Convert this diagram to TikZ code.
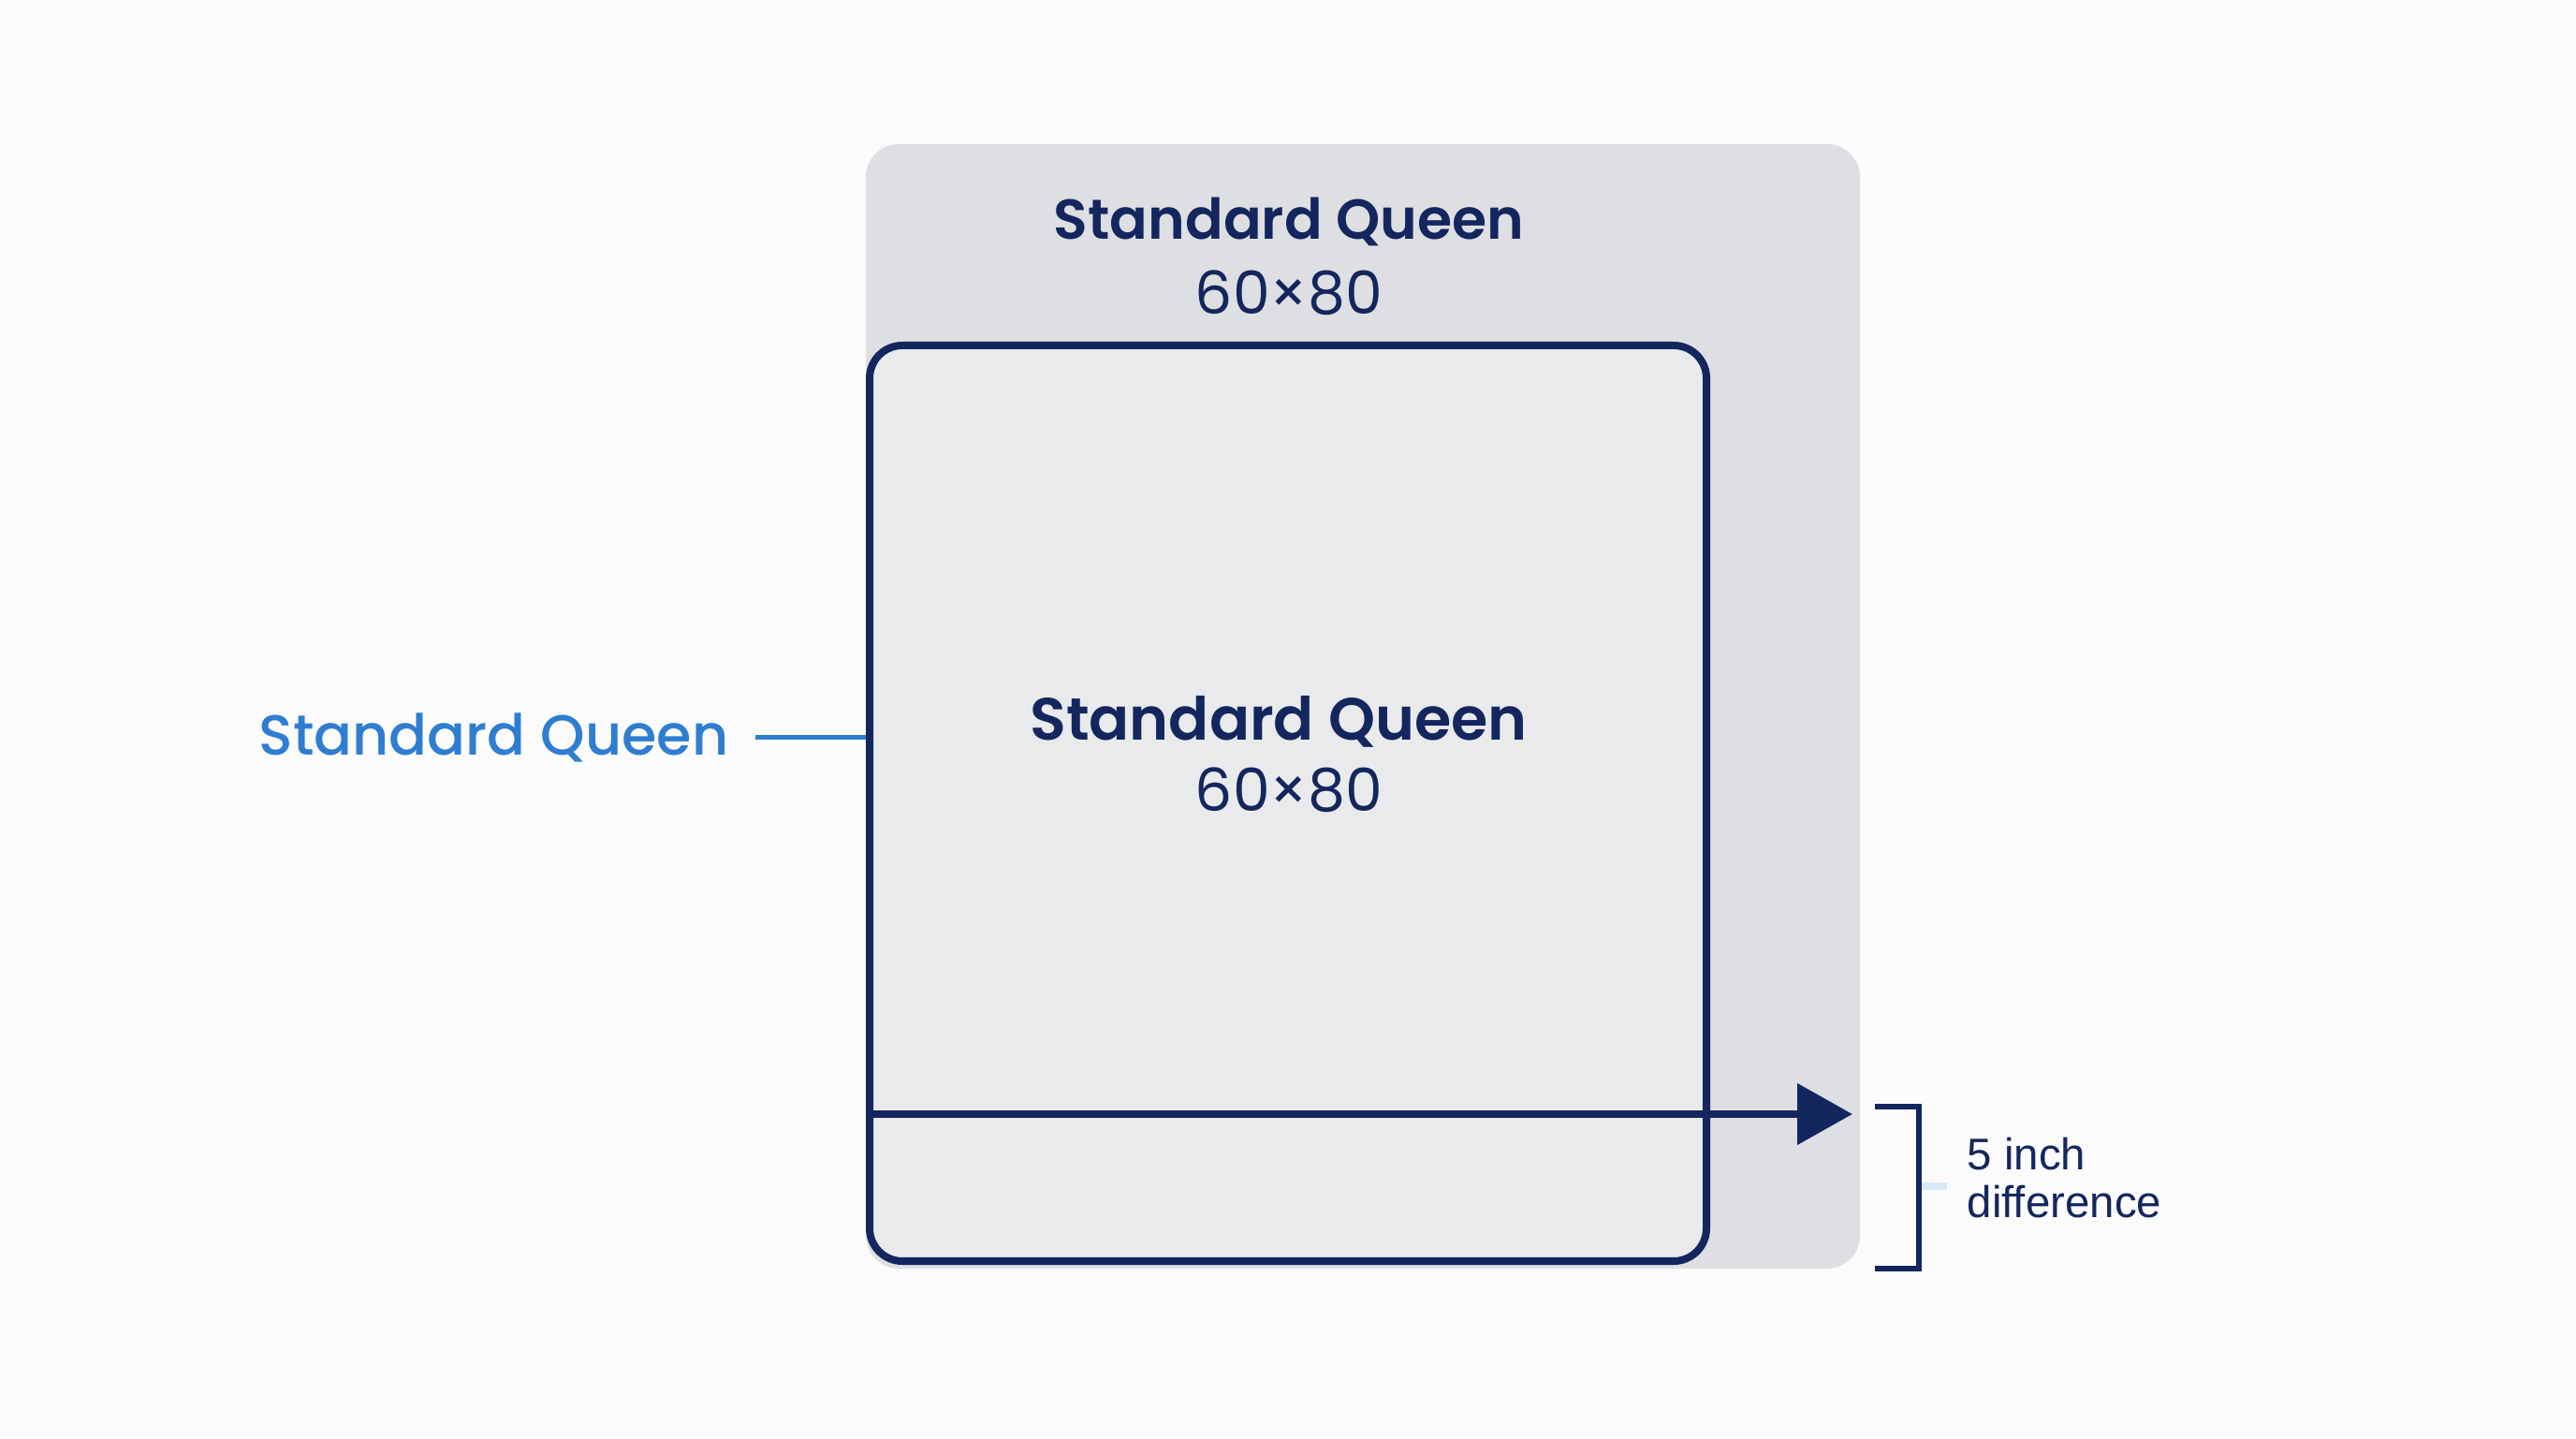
\documentclass[tikz,border=0pt]{standalone}
\usepackage{fontspec}
\setmainfont{Poppins}
\newfontfamily\semifont{Poppins SemiBold}
\newfontfamily\medfont{Poppins Medium}
\newfontfamily\notefont{Liberation Sans}
\usetikzlibrary{arrows.meta}
\definecolor{navy}{HTML}{14265E}
\definecolor{sheetgray}{HTML}{DEDFE2}
\definecolor{bedgray}{HTML}{E9EAEC}
\definecolor{labelblue}{HTML}{2F7DD1}
\definecolor{tickblue}{HTML}{D8E8F7}
\definecolor{paper}{HTML}{FBFBFB}

\begin{document}
\begin{tikzpicture}[
    bedtitle/.style={text=navy,font=\semifont\fontsize{17.1}{20}\selectfont},
    bedsize/.style={text=navy,font=\fontsize{18}{20}\selectfont},
    sidelabel/.style={text=labelblue,font=\medfont\fontsize{17.2}{20}\selectfont,anchor=east,inner sep=0pt},
    ]
    \fill[paper] (0,0) rectangle (27.52,15.36);
    %\draw[step=1cm,gray,very thin] (0,0) grid (27.52,15.36);
    \fill[sheetgray,rounded corners=3.5mm] (9.25,1.81) rectangle (19.87,13.82);
    \filldraw[fill=bedgray,draw=navy,line width=0.08cm,rounded corners=3.5mm] (9.29,1.89) rectangle (18.23,11.67);
    \node[bedtitle] (toptitle) at (13.77,12.99) {Standard Queen};
    \node[bedsize] (topsize) at (13.77,12.23) {60×80};
    \node[bedtitle,font=\semifont\fontsize{18.1}{20}\selectfont] (midtitle) at (13.66,7.65) {Standard Queen};
    \node[bedsize] (midsize) at (13.77,6.92) {60×80};
    \node[sidelabel] (side) at (7.79,7.48) {Standard Queen};
    \coordinate (sideend) at (9.25,7.48);
    \draw[labelblue,line width=0.05cm] ([xshift=2.8mm]side.east) -- (sideend);
    \coordinate (arrstart) at (9.32,3.46);
    \coordinate (arrtip) at (19.79,3.46);
    \draw[navy,line width=0.08cm,-{Triangle[length=5.9mm,width=6.4mm]}] (arrstart) -- (arrtip);
    \coordinate (brtop) at (20.50,3.54);
    \coordinate (brbot) at (20.50,1.81);
    \draw[tickblue,line width=0.08cm] (20.53,2.69) -- (20.80,2.69);
    \draw[navy,line width=0.06cm] (20.03,3.54) -- (brtop) -- (brbot) -- (20.03,1.81);
    \node[anchor=west,align=left,inner sep=0pt,text=navy,font=\notefont\fontsize{13.5}{14.5}\selectfont] (diff) at (21.01,2.78) {5 inch\\difference};
\end{tikzpicture}
\end{document}
